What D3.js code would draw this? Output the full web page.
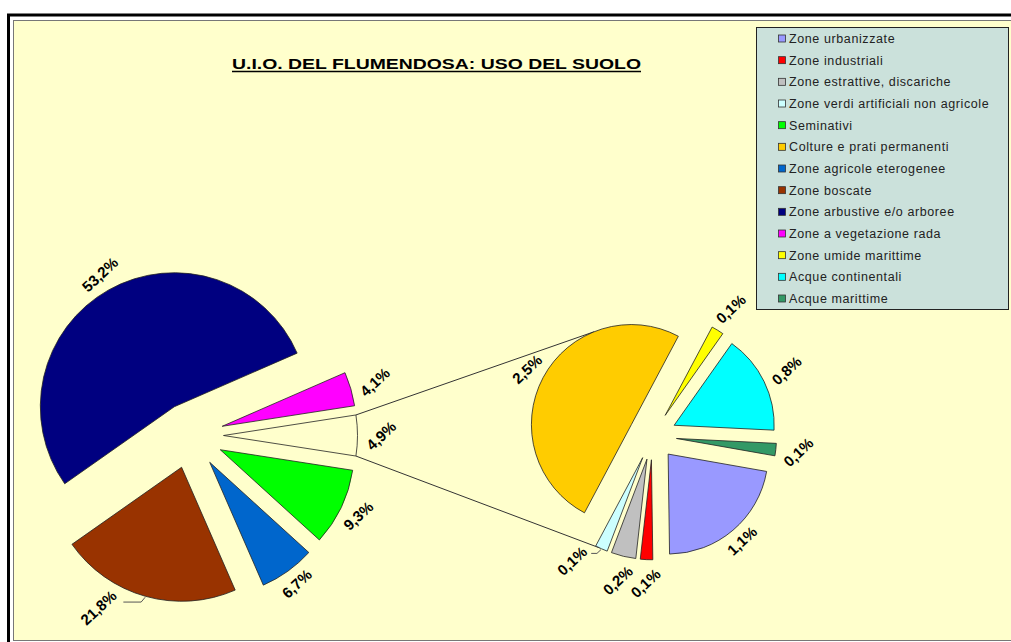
<!DOCTYPE html>
<html>
<head>
<meta charset="utf-8">
<script src="https://cdn.jsdelivr.net/npm/d3@7"></script>
<style>
  html, body { margin: 0; padding: 0; background: #fff; }
  svg { display: block; }
</style>
</head>
<body>
<div id="chart"></div>
<script>
// legend / series order as in the original sheet
const legendCategories = [
    "Zone urbanizzate", "Zone industriali", "Zone estrattive, discariche",
    "Zone verdi artificiali non agricole", "Seminativi", "Colture e prati permanenti",
    "Zone agricole eterogenee", "Zone boscate", "Zone arbustive e/o arboree",
    "Zone a vegetazione rada", "Zone umide marittime", "Acque continentali", "Acque marittime"
];
const legendColors = [
    "#9999ff", "#ff0000", "#c0c0c0", "#ccffff", "#00ff00", "#ffcc00",
    "#0066cc", "#993300", "#000080", "#ff00ff", "#ffff00", "#00ffff", "#339966"
];

// first pie (clockwise from the "other" slice)
const mainCategories = ["Altro", "Seminativi", "Zone agricole eterogenee", "Zone boscate",
    "Zone arbustive e/o arboree", "Zone a vegetazione rada"];
const mainValues = [4.9, 9.3, 6.7, 21.8, 53.2, 4.1];

// second pie (breakdown of "Altro")
const secondCategories = ["Zone urbanizzate", "Zone industriali", "Zone estrattive, discariche",
    "Zone verdi artificiali non agricole", "Colture e prati permanenti", "Zone umide marittime",
    "Acque continentali", "Acque marittime"];
const secondValues = [1.1, 0.1, 0.2, 0.1, 2.5, 0.1, 0.8, 0.1];

const title = "U.I.O. DEL FLUMENDOSA: USO DEL SUOLO";

const W = 1011, H = 642;
const bg = "#ffffcc";
const deg = Math.PI / 180;

const color = d3.scaleOrdinal(legendCategories, legendColors).unknown(bg);

const svg = d3.select("#chart").append("svg")
    .attr("width", W).attr("height", H);

// frame
svg.append("rect").attr("x", 8.5).attr("y", 15).attr("width", W + 20).attr("height", H + 20)
    .attr("fill", "none").attr("stroke", "#000").attr("stroke-width", 3);
svg.append("rect").attr("x", 13.5).attr("y", 20.5).attr("width", W + 20).attr("height", 620)
    .attr("fill", bg).attr("stroke", "#777").attr("stroke-width", 1);

// title
const titleText = svg.append("text")
    .attr("x", 436.5).attr("y", 69)
    .attr("text-anchor", "middle")
    .style("font-family", "Arial, 'Liberation Sans', sans-serif")
    .style("font-weight", "bold")
    .style("font-size", "15px")
    .attr("fill", "#000")
    .text(title);
titleText.attr("textLength", 409).attr("lengthAdjust", "spacingAndGlyphs");
svg.append("line")
    .attr("x1", 436.5 - 204.5).attr("x2", 436.5 + 204.5)
    .attr("y1", 71.5).attr("y2", 71.5)
    .attr("stroke", "#000").attr("stroke-width", 1.5);

// geometry of the two pies
const pies = {
    main: { cx: 190.5, cy: 435.5, r: 134, explode: 33, start: -8.82 },
    second: { cx: 652.6, cy: 435.8, r: 100, explode: 24, start: 10 }
};

const fmt = v => v.toFixed(1).replace(".", ",") + "%";
const dir = a => [Math.sin(a), -Math.cos(a)];   // d3 angle -> screen unit vector

function buildSlices(cats, vals, p) {
    const s = (p.start + 90) * deg;
    const pie = d3.pie().sort(null).value(d => d.v).startAngle(s).endAngle(s + 2 * Math.PI);
    const arcs = pie(cats.map((c, i) => ({ c, v: vals[i] })));
    arcs.forEach(d => {
        d.mid = (d.startAngle + d.endAngle) / 2;
        const u = dir(d.mid);
        d.apex = [p.cx + p.explode * u[0], p.cy + p.explode * u[1]];
    });
    return arcs;
}

const mainArcs = buildSlices(mainCategories, mainValues, pies.main);
const secondArcs = buildSlices(secondCategories, secondValues, pies.second);

// connector lines between "Altro" and second pie
function pointOnSecond(screenDeg) {
    let a = (screenDeg + 90) * deg;
    const s0 = secondArcs[0].startAngle;
    while (a < s0) a += 2 * Math.PI;
    while (a >= s0 + 2 * Math.PI) a -= 2 * Math.PI;
    const sl = secondArcs.find(d => a >= d.startAngle && a < d.endAngle);
    const u = dir(a);
    return [sl.apex[0] + pies.second.r * u[0], sl.apex[1] + pies.second.r * u[1]];
}
const other = mainArcs[0];
const oTop = dir(other.startAngle), oBot = dir(other.endAngle);
const connectors = [
    [[other.apex[0] + pies.main.r * oTop[0], other.apex[1] + pies.main.r * oTop[1]], pointOnSecond(248)],
    [[other.apex[0] + pies.main.r * oBot[0], other.apex[1] + pies.main.r * oBot[1]], pointOnSecond(115.5)]
];
svg.append("g").selectAll("line").data(connectors).join("line")
    .attr("x1", d => d[0][0]).attr("y1", d => d[0][1])
    .attr("x2", d => d[1][0]).attr("y2", d => d[1][1])
    .attr("stroke", "#333").attr("stroke-width", 1);

// slices
function drawPie(arcs, p) {
    const arc = d3.arc().innerRadius(0).outerRadius(p.r);
    svg.append("g").selectAll("path").data(arcs).join("path")
        .attr("transform", d => `translate(${d.apex[0]},${d.apex[1]})`)
        .attr("d", arc)
        .attr("fill", d => color(d.data.c))
        .attr("stroke", "#222")
        .attr("stroke-width", 0.8)
        .attr("stroke-linejoin", "round");
}
drawPie(mainArcs, pies.main);
drawPie(secondArcs, pies.second);

// labels, rotated like the Excel ones
const rot = -43;
const t = [Math.cos(rot * deg), Math.sin(rot * deg)];
const n = [-t[1], t[0]];
const labelShift = { "Zone boscate": 15, "Zone verdi artificiali non agricole": 10 };
const lblG = svg.append("g");

function drawLabels(arcs, p) {
    arcs.forEach(d => {
        const txt = lblG.append("text")
            .attr("text-anchor", "middle")
            .attr("dominant-baseline", "central")
            .style("font-family", "Arial, 'Liberation Sans', sans-serif")
            .style("font-weight", "bold")
            .style("font-size", "15px")
            .attr("fill", "#000")
            .text(fmt(d.data.v));
        const w = txt.node().getComputedTextLength(), h = 12;
        const shift = (labelShift[d.data.c] || 0) * deg;
        const u = dir(d.mid + shift);
        const ext = Math.abs(w / 2 * (t[0] * u[0] + t[1] * u[1])) + Math.abs(h / 2 * (n[0] * u[0] + n[1] * u[1]));
        const dist = p.r + 7 + ext;
        const x = d.apex[0] + dist * u[0], y = d.apex[1] + dist * u[1];
        txt.attr("transform", `translate(${x},${y}) rotate(${rot})`);
        if (shift) {
            const um = dir(d.mid);
            const a = [d.apex[0] + (p.r + 1) * um[0], d.apex[1] + (p.r + 1) * um[1]];
            const dx = a[0] - x, dy = a[1] - y, dl = Math.hypot(dx, dy);
            const e = [x + dx / dl * (w * 0.6), y + dy / dl * (w * 0.6)];
            lblG.append("path")
                .attr("d", d3.line()([a, [a[0] - 4, e[1]], e]))
                .attr("fill", "none").attr("stroke", "#555").attr("stroke-width", 1);
        }
    });
}
drawLabels(mainArcs, pies.main);
drawLabels(secondArcs, pies.second);

// legend
const lg = svg.append("g").attr("transform", "translate(756.5,27.5)");
lg.append("rect").attr("width", 252).attr("height", 282)
    .attr("fill", "#cbe1db").attr("stroke", "#222").attr("stroke-width", 1);
const rowY = d3.scalePoint().domain(legendCategories).range([11.5, 271.5]);
const rows = lg.selectAll("g.row").data(legendCategories).join("g")
    .attr("class", "row")
    .attr("transform", d => `translate(0,${rowY(d)})`);
rows.append("rect")
    .attr("x", 22).attr("y", -4).attr("width", 7).attr("height", 7)
    .attr("fill", d => color(d)).attr("stroke", "#333").attr("stroke-width", 0.8);
rows.append("text")
    .attr("x", 32.5).attr("y", 0)
    .attr("dominant-baseline", "central")
    .style("font-family", "Arial, 'Liberation Sans', sans-serif")
    .style("font-size", "12.5px")
    .style("letter-spacing", "0.6px")
    .attr("fill", "#222")
    .text(d => d);
</script>
</body>
</html>
